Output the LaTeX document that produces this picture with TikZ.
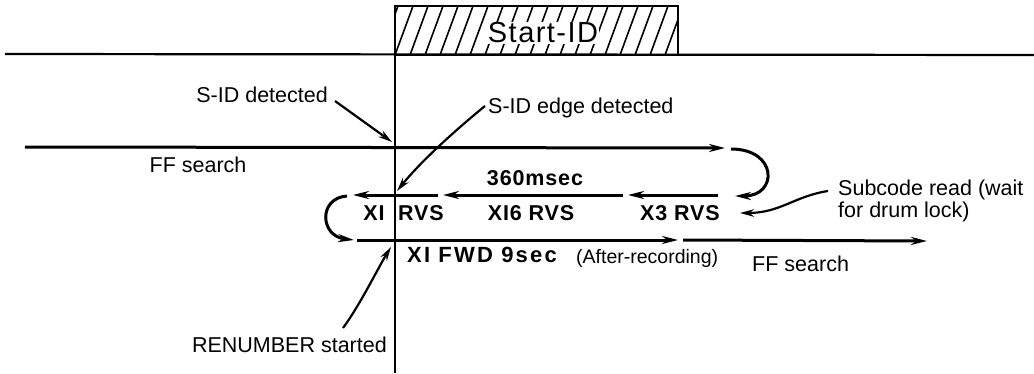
\documentclass[tikz,border=0pt]{standalone}
\usepackage{fontspec}
\setmainfont{Liberation Sans}
\newfontfamily\lblfont[LetterSpace=4.0]{Liberation Sans}
\newfontfamily\widefont[LetterSpace=10.0]{Liberation Sans}
\newfontfamily\titlefont[LetterSpace=5.0]{Liberation Sans}
\usetikzlibrary{arrows.meta}
\begin{document}
\begin{tikzpicture}[x=1pt,y=-1pt,
  txt/.style={inner sep=0pt,font=\fontsize{21.5}{22}\selectfont},
  boldtxt/.style={inner sep=0pt,font=\lblfont\bfseries\fontsize{21.5}{22}\selectfont},
  mainline/.style={line width=2.2pt},
  arr/.style={line width=3pt,-{Stealth[length=16pt,width=8pt]}},
  thinarr/.style={line width=2.2pt,-{Stealth[length=14pt,width=7.5pt]}},
  hatch/.style={line width=1.6pt}]
\useasboundingbox (0,0) rectangle (1034,373);

% ---- coordinates ----
\coordinate (topL) at (5,54);
\coordinate (topR) at (1034,55);
\coordinate (vTop) at (395,6);
\coordinate (vBot) at (395,373);
\coordinate (boxNW) at (395,6);
\coordinate (boxSE) at (678,55);

% ---- Start-ID block ----
\begin{scope}
  \clip (boxNW) rectangle (boxSE);
  \foreach \x in {365,380,...,690}
    \draw[hatch] (\x,55) -- ++(18,-49);
\end{scope}
\draw[mainline] (boxNW) rectangle (boxSE);
\node[inner sep=1pt,fill=white,font=\titlefont\fontsize{29}{30}\selectfont] (startid) at (543,33) {Start-ID};

% ---- main lines ----
\draw[mainline] (topL) -- (topR);
\draw[mainline] (vTop) -- (vBot);

% ---- FF search (upper) ----
\coordinate (ffA) at (25,147);
\coordinate (ffB) at (725,148);
\draw[arr] (ffA) -- (ffB);
\node[txt] (ffsearch1) at (198,165) {FF search};

% ---- turn to reverse ----
\coordinate (turnA) at (731,149);
\coordinate (turnB) at (735,196);
\draw[arr] (turnA) .. controls (778,149) and (778,196) .. (turnB);

% ---- reverse segments ----
\coordinate (r3a) at (718,195);
\coordinate (r3b) at (628,195);
\coordinate (r16a) at (623,195);
\coordinate (r16b) at (443,195);
\coordinate (r1a) at (438,195);
\coordinate (r1b) at (353,195);
\draw[arr] (r3a) -- (r3b);
\draw[arr] (r16a) -- (r16b);
\draw[arr] (r1a) -- (r1b);

\node[boldtxt] (msec) at (535,178) {360msec};
\node[boldtxt] (x1) at (374,213) {XI};
\node[boldtxt] (rvs1) at (421,213) {RVS};
\node[boldtxt] (x16) at (531,213) {XI6 RVS};
\node[boldtxt] (x3) at (680,213) {X3 RVS};

% ---- turn to forward ----
\coordinate (turnC) at (347,196);
\coordinate (turnD) at (354,240);
\draw[arr] (turnC) .. controls (318,198) and (320,236) .. (turnD);

% ---- forward segments ----
\coordinate (fwA) at (357,240);
\coordinate (fwB) at (678,240);
\coordinate (ff2A) at (683,240);
\coordinate (ff2B) at (927,241);
\draw[arr] (fwA) -- (fwB);
\draw[arr] (ff2A) -- (ff2B);
\node[inner sep=0pt,anchor=west,font=\widefont\bfseries\fontsize{22}{22}\selectfont] (fwd) at (407,255) {XI FWD 9sec};
\node[inner sep=0pt,anchor=west,font=\fontsize{19.5}{20}\selectfont] (after) at (576,258) {(After-recording)};
\node[txt,anchor=west] (ffsearch2) at (752,264) {FF search};

% ---- annotations ----
\node[txt,anchor=east] (sid) at (328,95) {S-ID detected};
\coordinate (sidA) at (335,101);
\coordinate (sidB) at (392,142);
\draw[thinarr] (sidA) -- (sidB);

\node[txt,anchor=west] (sidedge) at (488,108) {S-ID edge detected};
\coordinate (edgeA) at (485,106);
\coordinate (edgeB) at (397,191);
\draw[thinarr] (edgeA) .. controls (458,128) and (422,160) .. (edgeB);

\node[txt,anchor=west,align=left] (subcode) at (838,201) {Subcode read (wait\\for drum lock)};
\coordinate (subA) at (828,191);
\coordinate (subB) at (740,213);
\draw[thinarr] (subA) .. controls (795,196) and (780,213) .. (subB);

\node[txt,anchor=east] (renum) at (387,345) {RENUMBER started};
\coordinate (renA) at (343,328);
\coordinate (renB) at (391,247);
\draw[thinarr] (renA) .. controls (360,305) and (378,268) .. (renB);
\end{tikzpicture}
\end{document}
